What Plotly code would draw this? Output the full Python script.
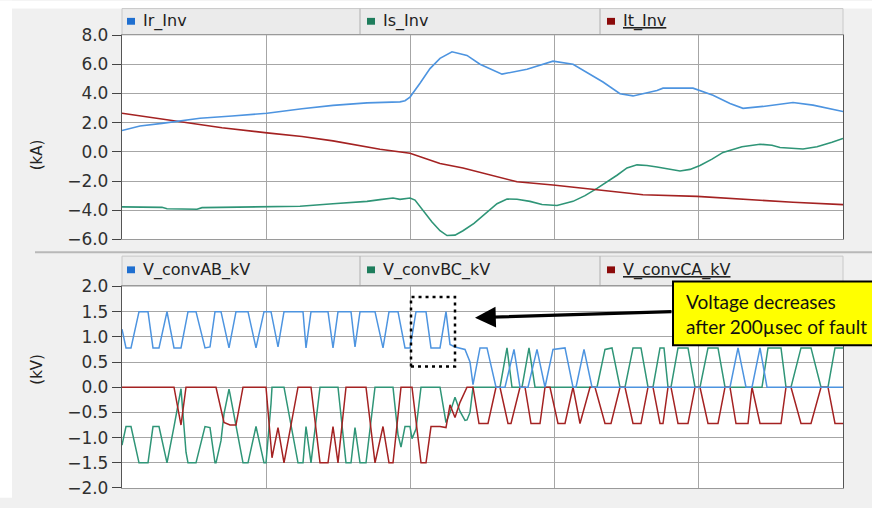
import plotly.graph_objects as go

# ---------------- data (time in samples, 0..721) ----------------
# Top panel: inverter currents (kA)
ir_t = [0, 18, 40, 78, 110, 145, 180, 211, 245, 278, 283, 288, 298, 308, 318, 330, 345, 358, 380, 405, 431, 451, 481, 498, 511, 535, 541, 571, 591, 608, 621, 641, 671, 691, 721]
ir_v = [1.46, 1.77, 1.95, 2.3, 2.45, 2.64, 2.95, 3.18, 3.35, 3.42, 3.5, 3.75, 4.7, 5.7, 6.4, 6.85, 6.6, 6.0, 5.32, 5.66, 6.21, 6.0, 4.78, 3.98, 3.83, 4.2, 4.36, 4.36, 3.87, 3.31, 2.98, 3.11, 3.38, 3.2, 2.76]

is_t = [0, 40, 45, 75, 80, 145, 178, 211, 245, 258, 271, 278, 288, 293, 300, 310, 318, 325, 333, 341, 352, 365, 375, 385, 395, 408, 420, 435, 451, 463, 475, 495, 505, 515, 525, 535, 558, 568, 578, 590, 601, 620, 638, 650, 658, 681, 695, 710, 721]
is_v = [-3.77, -3.8, -3.9, -3.93, -3.82, -3.77, -3.72, -3.55, -3.39, -3.27, -3.16, -3.25, -3.16, -3.3, -3.9, -4.8, -5.4, -5.73, -5.7, -5.4, -4.9, -4.17, -3.55, -3.23, -3.25, -3.39, -3.6, -3.67, -3.39, -3.0, -2.5, -1.6, -1.1, -0.89, -0.93, -1.04, -1.31, -1.2, -0.93, -0.5, -0.04, 0.35, 0.52, 0.45, 0.3, 0.19, 0.35, 0.65, 0.92]

it_t = [0, 30, 65, 100, 145, 180, 211, 240, 258, 288, 308, 318, 341, 368, 395, 431, 475, 521, 575, 625, 671, 721]
it_v = [2.64, 2.35, 1.97, 1.65, 1.3, 1.05, 0.75, 0.4, 0.18, -0.1, -0.55, -0.8, -1.1, -1.6, -2.05, -2.27, -2.6, -2.94, -3.05, -3.27, -3.45, -3.61]

# Bottom panel: converter line voltages (kV)
vab_t = [0, 4, 9, 17, 26, 31, 37, 45, 52, 59, 66, 74, 83, 88, 93, 99, 107, 114, 126, 134, 142, 149, 156, 162, 181, 184, 189, 206, 211, 216, 229, 233, 238, 253, 261, 267, 276, 283, 288, 294, 304, 309, 318, 324, 328, 333, 343, 348, 351, 354, 358, 365, 374, 383, 392, 398, 406, 415, 423, 431, 443, 451, 454, 462, 470, 608, 616, 624, 630, 638, 645, 721]
vab_v = [1.15, 0.78, 0.78, 1.5, 1.5, 0.78, 0.78, 1.5, 0.78, 0.78, 1.5, 1.5, 0.78, 0.8, 1.5, 1.5, 0.78, 1.5, 1.5, 0.78, 1.5, 1.5, 0.8, 1.5, 1.5, 0.78, 1.5, 1.5, 0.78, 1.5, 1.5, 0.8, 1.5, 1.5, 0.78, 1.5, 1.5, 0.78, 0.78, 1.5, 1.5, 0.78, 0.78, 1.5, 0.85, 0.8, 0.75, 0.5, 0.05, 0.4, 0.78, 0.78, 0.0, 0.0, 0.75, 0.0, 0.0, 0.75, 0.0, 0.75, 0.78, 0.0, 0.0, 0.75, 0.0, 0.0, 0.78, 0.0, 0.0, 0.78, 0.0, 0.0]

vbc_t = [0, 4, 9, 17, 26, 31, 37, 45, 52, 59, 64, 66, 74, 83, 88, 93, 94, 99, 102, 107, 108, 114, 121, 126, 134, 142, 144, 149, 150, 156, 162, 176, 181, 184, 189, 198, 216, 224, 229, 233, 238, 244, 253, 271, 276, 279, 283, 288, 290, 294, 299, 318, 324, 328, 333, 338, 343, 345, 348, 351, 378, 385, 390, 400, 407, 413, 475, 483, 490, 498, 503, 511, 519, 526, 531, 538, 542, 546, 549, 556, 566, 573, 578, 586, 596, 603, 640, 646, 659, 664, 669, 679, 689, 699, 706, 713, 721]
vbc_v = [-1.15, -0.78, -0.78, -1.5, -1.5, -0.78, -0.78, -1.5, -0.78, -0.03, -1.29, -1.5, -1.5, -0.78, -0.8, -1.5, -1.5, -1.06, -0.53, -0.04, -0.13, -0.75, -1.5, -1.5, -0.78, -1.5, -1.5, -0.33, 0.0, 0.0, 0.0, -1.5, -1.5, -0.78, -1.5, 0.0, 0.0, -1.5, -1.5, -0.8, -1.5, -1.5, 0.0, 0.0, -0.94, -1.19, -0.78, -0.78, -1.02, -0.83, 0.0, 0.0, -0.7, -0.5, -0.2, -0.48, -0.66, -0.65, -0.5, 0.0, 0.0, 0.78, 0.0, 0.0, 0.78, 0.0, 0.0, 0.75, 0.78, 0.0, 0.0, 0.78, 0.78, 0.0, 0.0, 0.78, 0.78, 0.0, 0.0, 0.78, 0.78, 0.0, 0.0, 0.78, 0.78, 0.0, 0.0, 0.78, 0.78, 0.0, 0.0, 0.78, 0.78, 0.0, 0.0, 0.78, 0.78]

vca_t = [0, 52, 59, 64, 94, 102, 108, 114, 121, 144, 150, 156, 162, 176, 189, 198, 206, 211, 216, 224, 244, 253, 261, 267, 271, 279, 290, 299, 304, 309, 318, 324, 328, 333, 338, 345, 351, 357, 366, 374, 378, 386, 389, 398, 403, 409, 418, 423, 428, 436, 443, 451, 458, 468, 473, 483, 489, 498, 503, 511, 519, 526, 531, 538, 541, 546, 549, 556, 566, 573, 578, 586, 596, 603, 608, 614, 626, 630, 638, 659, 664, 669, 679, 689, 699, 706, 713, 721]
vca_v = [0.0, 0.0, -0.75, 0.0, 0.0, -0.7, -0.75, -0.75, 0.0, 0.0, -1.4, -0.8, -1.5, 0.0, 0.0, -1.5, -1.5, -0.78, -1.5, 0.0, 0.0, -1.5, -0.78, -1.5, -1.5, 0.0, 0.0, -1.5, -1.5, -0.78, -0.78, -0.8, -0.35, -0.6, -0.3, 0.0, 0.0, -0.72, -0.72, 0.0, 0.0, -0.72, -0.72, 0.0, 0.0, -0.72, -0.72, 0.0, 0.0, -0.72, -0.72, 0.0, -0.72, 0.0, 0.0, -0.72, -0.72, 0.0, 0.0, -0.72, -0.72, 0.0, 0.0, -0.72, -0.72, 0.0, 0.0, -0.72, -0.72, 0.0, 0.0, -0.72, -0.72, 0.0, 0.0, -0.72, -0.72, 0.0, -0.72, -0.72, 0.0, 0.0, -0.72, -0.72, 0.0, 0.0, -0.72, -0.72]

top_names = ["Ir_Inv", "Is_Inv", "It_Inv"]
bot_names = ["V_convAB_kV", "V_convBC_kV", "V_convCA_kV"]
top_ticks = [8.0, 6.0, 4.0, 2.0, 0.0, -2.0, -4.0, -6.0]
bot_ticks = [2.0, 1.5, 1.0, 0.5, 0.0, -0.5, -1.0, -1.5, -2.0]
note_lines = ["Voltage decreases", "after 200µsec of fault"]

# ---------------- styling / layout ----------------
W, H = 872, 508
L, R, T, B = 122, 843, 35, 498
PW, PH = R - L, B - T

def fx(px):
    return (px - L) / PW

def fy(py):
    return (B - py) / PH

BLUE = "#4d94e0"
GREEN = "#2f9577"
RED = "#a42222"
LEG_BLUE = "#1f6fd0"
LEG_GREEN = "#1e7d5c"
LEG_RED = "#8b0a0a"

fig = go.Figure()

fig.add_trace(go.Scatter(x=is_t, y=is_v, mode="lines", line=dict(color=GREEN, width=1.6), xaxis="x", yaxis="y"))
fig.add_trace(go.Scatter(x=it_t, y=it_v, mode="lines", line=dict(color=RED, width=1.6), xaxis="x", yaxis="y"))
fig.add_trace(go.Scatter(x=ir_t, y=ir_v, mode="lines", line=dict(color=BLUE, width=1.6), xaxis="x", yaxis="y"))

fig.add_trace(go.Scatter(x=vbc_t, y=vbc_v, mode="lines", line=dict(color=GREEN, width=1.5), xaxis="x2", yaxis="y2"))
fig.add_trace(go.Scatter(x=vca_t, y=vca_v, mode="lines", line=dict(color=RED, width=1.5), xaxis="x2", yaxis="y2"))
fig.add_trace(go.Scatter(x=vab_t, y=vab_v, mode="lines", line=dict(color=BLUE, width=1.5), xaxis="x2", yaxis="y2"))

top_dom = [fy(244), 1.0]
bot_dom = [0.0, fy(292)]

xcommon = dict(range=[0, 721], dtick=144.2, tick0=0, showticklabels=False, ticks="",
               showgrid=True, gridcolor="#a6a6a6", gridwidth=1.3, zeroline=False,
               showline=True, linecolor="#9a9a9a", linewidth=1.3, mirror=True)
ycommon = dict(showgrid=True, gridcolor="#a6a6a6", gridwidth=1.3, zeroline=False,
               showline=True, linecolor="#555555", linewidth=1.3, mirror=True,
               ticks="outside", ticklen=9, tickcolor="#444444", tickwidth=1.3,
               tickformat=".1f", tickfont=dict(family="DejaVu Sans", size=17, color="#303030"))

fig.update_layout(
    width=W, height=H,
    margin=dict(l=L, r=W - R, t=T, b=H - B, pad=0),
    paper_bgcolor="#f0f0f0", plot_bgcolor="white",
    showlegend=False,
    xaxis=dict(domain=[0, 1], anchor="y", **xcommon),
    xaxis2=dict(domain=[0, 1], anchor="y2", **xcommon),
    yaxis=dict(domain=top_dom, anchor="x", range=[-6, 8], tickvals=top_ticks, **ycommon),
    yaxis2=dict(domain=bot_dom, anchor="x2", range=[-2, 2], tickvals=bot_ticks, **ycommon),
)

shapes = []
# white strips at the top and left edges of the window
shapes.append(dict(type="rect", xref="paper", yref="paper", x0=fx(0), x1=fx(W), y0=fy(8), y1=fy(0),
                   fillcolor="white", line=dict(width=0), layer="below"))
shapes.append(dict(type="rect", xref="paper", yref="paper", x0=fx(0), x1=fx(12), y0=fy(H), y1=fy(0),
                   fillcolor="white", line=dict(width=0), layer="below"))
# legend bars
for (y0, y1) in [(8, 35), (261, 292)]:
    shapes.append(dict(type="rect", xref="paper", yref="paper", x0=fx(L), x1=fx(R), y0=fy(y1), y1=fy(y0),
                       fillcolor="#ebebeb", line=dict(color="#c8c8c8", width=1), layer="below"))
    for xd in [360, 600]:
        shapes.append(dict(type="line", xref="paper", yref="paper", x0=fx(xd), x1=fx(xd), y0=fy(y1), y1=fy(y0),
                           line=dict(color="#bdbdbd", width=1.3), layer="below"))
# separator between panels
shapes.append(dict(type="line", xref="paper", yref="paper", x0=fx(35), x1=fx(W), y0=fy(257), y1=fy(257),
                   line=dict(color="#b8b8b8", width=2), layer="below"))

annotations = []
leg_cols = [(127, LEG_BLUE), (367, LEG_GREEN), (607, LEG_RED)]
for names, yc in [(top_names, 21), (bot_names, 275)]:
    for i, (name, (x0, col)) in enumerate(zip(names, leg_cols)):
        shapes.append(dict(type="rect", xref="paper", yref="paper", x0=fx(x0), x1=fx(x0 + 8),
                           y0=fy(yc + 3.5), y1=fy(yc - 3.5), fillcolor=col, line=dict(width=0)))
        txt = f"<u>{name}</u>" if i == 2 else name
        annotations.append(dict(xref="paper", yref="paper", x=fx(x0 + 14), y=fy(yc), text=txt,
                                showarrow=False, xanchor="left", yanchor="middle",
                                font=dict(family="DejaVu Sans", size=16, color="#222222")))

# y axis titles
annotations.append(dict(xref="paper", yref="paper", x=fx(26), y=fy(140), text="(kA)", textangle=-90,
                        showarrow=False, font=dict(family="DejaVu Sans", size=15, color="#222222")))
annotations.append(dict(xref="paper", yref="paper", x=fx(26), y=fy(395), text="(kV)", textangle=-90,
                        showarrow=False, font=dict(family="DejaVu Sans", size=15, color="#222222")))

# dotted box around the last pre-fault pulses
shapes.append(dict(type="rect", xref="x2", yref="y2", x0=289, x1=333, y0=0.41, y1=1.79,
                   line=dict(color="black", width=2.5, dash="3px,4px")))

# yellow call-out box
shapes.append(dict(type="rect", xref="paper", yref="paper", x0=fx(673), x1=fx(890), y0=fy(352), y1=fy(287),
                   fillcolor="#ffff00", line=dict(color="black", width=2)))
annotations.append(dict(xref="paper", yref="paper", x=fx(684), y=fy(320), text="<br>".join(note_lines),
                        showarrow=False, xanchor="left", yanchor="middle", align="left",
                        font=dict(family="Lato", size=19, color="#111111")))
# arrow
annotations.append(dict(xref="x2", yref="y2", x=353, y=1.38, ax=551, ay=1.5, axref="x2", ayref="y2",
                        text="", showarrow=True, arrowhead=2, arrowsize=1.3, arrowwidth=3.2,
                        arrowcolor="black"))

fig.update_layout(shapes=shapes, annotations=annotations)
fig.write_html("out.html")
